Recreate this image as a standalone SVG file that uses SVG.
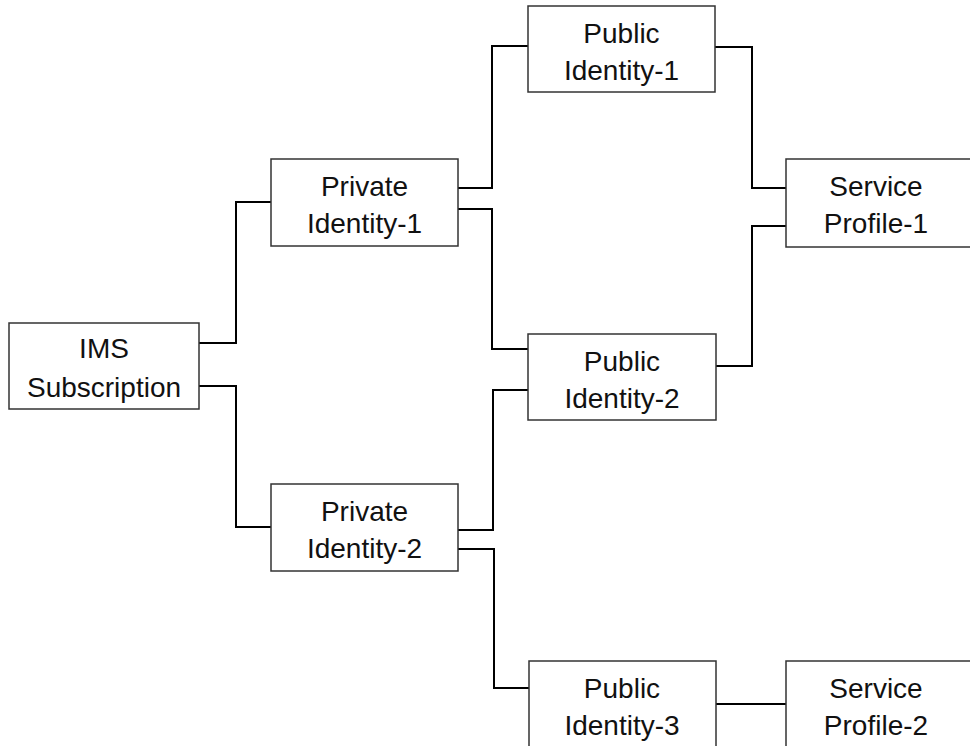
<svg xmlns="http://www.w3.org/2000/svg" width="970" height="746" viewBox="0 0 970 746">
<style>
.box{fill:#fff;stroke:#333;stroke-width:1.5}
.lbl{font-family:"Liberation Sans",Arial,sans-serif;font-size:28px;fill:#111;text-anchor:middle}
.conn{fill:none;stroke:#000;stroke-width:2}
</style>
<rect width="970" height="746" fill="#fff"/>
<g id="connectors">
<polyline class="conn" points="199,343 236,343 236,202 271,202"/>
<polyline class="conn" points="199,386 236,386 236,527 271,527"/>
<polyline class="conn" points="458,188 492,188 492,46 528,46"/>
<polyline class="conn" points="458,209 492,209 492,349 528,349"/>
<polyline class="conn" points="715,47 752,47 752,188 786,188"/>
<polyline class="conn" points="716,366 752,366 752,226 786,226"/>
<polyline class="conn" points="458,530 493,530 493,390 528,390"/>
<polyline class="conn" points="458,549 494,549 494,688 529,688"/>
<polyline class="conn" points="716,704 786,704"/>
</g>
<g id="ims">
<rect class="box" x="9" y="323" width="190" height="86"/>
<text class="lbl" x="104" y="358">IMS</text>
<text class="lbl" x="104" y="397">Subscription</text>
</g>
<g id="private1">
<rect class="box" x="271" y="159" width="187" height="87"/>
<text class="lbl" x="364.5" y="196">Private</text>
<text class="lbl" x="364.5" y="233">Identity-1</text>
</g>
<g id="private2">
<rect class="box" x="271" y="484" width="187" height="87"/>
<text class="lbl" x="364.5" y="521">Private</text>
<text class="lbl" x="364.5" y="558">Identity-2</text>
</g>
<g id="public1">
<rect class="box" x="528" y="6" width="187" height="86"/>
<text class="lbl" x="621.5" y="43">Public</text>
<text class="lbl" x="621.5" y="80">Identity-1</text>
</g>
<g id="public2">
<rect class="box" x="528" y="334" width="188" height="86"/>
<text class="lbl" x="622" y="371">Public</text>
<text class="lbl" x="622" y="408">Identity-2</text>
</g>
<g id="public3">
<rect class="box" x="529" y="661" width="187" height="100"/>
<text class="lbl" x="622" y="698">Public</text>
<text class="lbl" x="622" y="735">Identity-3</text>
</g>
<g id="service1">
<rect class="box" x="786" y="159" width="200" height="88"/>
<text class="lbl" x="876" y="196">Service</text>
<text class="lbl" x="876" y="233">Profile-1</text>
</g>
<g id="service2">
<rect class="box" x="786" y="661" width="200" height="100"/>
<text class="lbl" x="876" y="698">Service</text>
<text class="lbl" x="876" y="735">Profile-2</text>
</g>
</svg>
